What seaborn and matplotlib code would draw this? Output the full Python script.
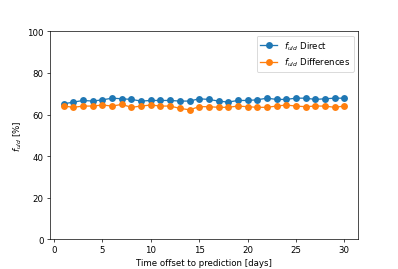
import numpy as np
import pandas as pd
import seaborn as sns
import matplotlib.pyplot as plt

days = list(range(1, 31))
direct = [65.2, 66.0, 66.8, 66.5, 67.1, 67.9, 67.6, 67.3, 66.5, 66.8,
          66.8, 66.8, 66.5, 66.5, 67.6, 67.3, 66.5, 66.0, 66.8, 66.8,
          67.1, 67.9, 67.3, 67.3, 67.9, 67.9, 67.3, 67.6, 67.9, 67.9]
differences = [64.1, 63.5, 64.1, 64.1, 64.6, 64.1, 64.9, 63.5, 64.1, 64.6,
               64.1, 64.1, 63.0, 62.3, 63.8, 63.8, 63.5, 63.5, 64.1, 63.8,
               63.5, 63.5, 64.1, 64.6, 64.1, 63.8, 64.1, 64.1, 63.5, 64.1]

df = pd.DataFrame({
    "day": days * 2,
    "value": direct + differences,
    "method": [r"$f_{uld}$ Direct"] * 30 + [r"$f_{uld}$ Differences"] * 30,
})

# plain matplotlib look: black spines and text
plt.rcParams['font.family'] = ['DejaVu Sans']

fig, ax = plt.subplots(figsize=(6.4, 4.34), dpi=62.2)
sns.lineplot(data=df, x="day", y="value", hue="method", marker="o",
             markersize=8, markeredgewidth=0, palette=["#1f77b4", "#ff7f0e"], ax=ax)
ax.set_ylim(0, 100)
ax.set_xlabel("Time offset to prediction [days]")
ax.set_ylabel(r"$f_{uld}$ [%]")
ax.legend(title=None, loc="upper right")
fig.savefig("out.png")
